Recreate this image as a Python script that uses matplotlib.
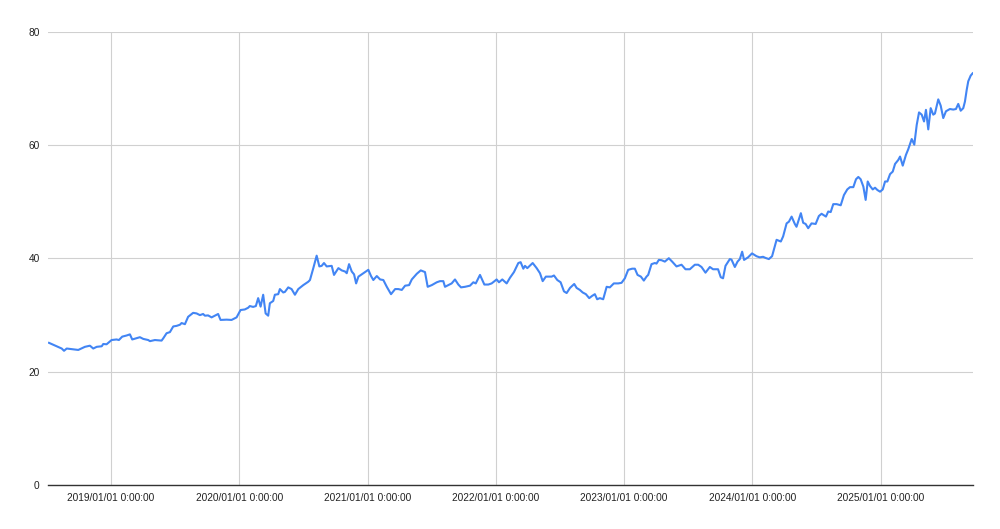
import pandas as pd
import matplotlib
matplotlib.use("Agg")
import matplotlib.pyplot as plt
import matplotlib.dates as mdates

# dates as decimal years
years = [
    2018.517, 2018.616, 2018.634, 2018.655, 2018.745, 2018.797, 2018.836, 2018.862, 2018.889, 2018.928,
    2018.940, 2018.966, 2019.005, 2019.044, 2019.062, 2019.088, 2019.122, 2019.148, 2019.166, 2019.213,
    2019.226, 2019.252, 2019.291, 2019.304, 2019.343, 2019.395, 2019.408, 2019.434, 2019.460, 2019.486,
    2019.512, 2019.538, 2019.551, 2019.577, 2019.602, 2019.641, 2019.668, 2019.694, 2019.719, 2019.733,
    2019.758, 2019.785, 2019.836, 2019.855, 2019.902, 2019.941, 2019.980, 2020.011, 2020.044, 2020.070,
    2020.083, 2020.109, 2020.130, 2020.148, 2020.167, 2020.187, 2020.206, 2020.226, 2020.239, 2020.265,
    2020.278, 2020.304, 2020.317, 2020.343, 2020.356, 2020.382, 2020.408, 2020.434, 2020.460, 2020.499,
    2020.538, 2020.551, 2020.577, 2020.603, 2020.624, 2020.642, 2020.660, 2020.681, 2020.720, 2020.738,
    2020.772, 2020.798, 2020.824, 2020.837, 2020.855, 2020.876, 2020.894, 2020.910, 2020.928, 2020.966,
    2021.005, 2021.026, 2021.044, 2021.071, 2021.097, 2021.122, 2021.149, 2021.182, 2021.214, 2021.239,
    2021.266, 2021.292, 2021.323, 2021.344, 2021.383, 2021.414, 2021.447, 2021.468, 2021.500, 2021.539,
    2021.564, 2021.590, 2021.603, 2021.629, 2021.655, 2021.681, 2021.707, 2021.728, 2021.759, 2021.798,
    2021.824, 2021.843, 2021.876, 2021.910, 2021.941, 2021.967, 2022.006, 2022.024, 2022.050, 2022.084,
    2022.110, 2022.141, 2022.175, 2022.193, 2022.214, 2022.227, 2022.245, 2022.287, 2022.318, 2022.344,
    2022.365, 2022.390, 2022.435, 2022.453, 2022.479, 2022.505, 2022.531, 2022.552, 2022.578, 2022.611,
    2022.630, 2022.655, 2022.677, 2022.702, 2022.728, 2022.751, 2022.772, 2022.790, 2022.811, 2022.837,
    2022.864, 2022.889, 2022.920, 2022.954, 2022.980, 2023.006, 2023.032, 2023.063, 2023.084, 2023.105,
    2023.131, 2023.154, 2023.175, 2023.188, 2023.214, 2023.240, 2023.253, 2023.271, 2023.292, 2023.318,
    2023.349, 2023.375, 2023.409, 2023.448, 2023.479, 2023.513, 2023.552, 2023.578, 2023.604, 2023.635,
    2023.669, 2023.694, 2023.733, 2023.754, 2023.772, 2023.791, 2023.825, 2023.838, 2023.864, 2023.885,
    2023.903, 2023.921, 2023.936, 2023.967, 2023.998, 2024.033, 2024.058, 2024.084, 2024.103, 2024.129,
    2024.154, 2024.189, 2024.222, 2024.240, 2024.267, 2024.285, 2024.306, 2024.331, 2024.344, 2024.378,
    2024.396, 2024.415, 2024.435, 2024.461, 2024.493, 2024.518, 2024.539, 2024.552, 2024.573, 2024.591,
    2024.610, 2024.630, 2024.656, 2024.688, 2024.713, 2024.739, 2024.760, 2024.786, 2024.807, 2024.825,
    2024.843, 2024.864, 2024.882, 2024.898, 2024.916, 2024.937, 2024.955, 2024.973, 2024.994, 2025.015,
    2025.033, 2025.051, 2025.072, 2025.093, 2025.111, 2025.136, 2025.150, 2025.171, 2025.196, 2025.214,
    2025.241, 2025.261, 2025.280, 2025.298, 2025.319, 2025.337, 2025.352, 2025.370, 2025.389, 2025.409,
    2025.422, 2025.448, 2025.467, 2025.487, 2025.508, 2025.539, 2025.565, 2025.586, 2025.604, 2025.623,
    2025.643, 2025.656, 2025.670, 2025.682, 2025.701, 2025.716,
]

values = [
    25.1, 24.1, 23.7, 24.1, 23.85, 24.4, 24.6, 24.1, 24.4, 24.5,
    24.9, 24.85, 25.6, 25.7, 25.6, 26.2, 26.4, 26.6, 25.7, 26.0,
    26.1, 25.8, 25.6, 25.4, 25.6, 25.5, 25.9, 26.8, 27.0, 28.0,
    28.1, 28.3, 28.6, 28.4, 29.7, 30.4, 30.3, 30.0, 30.2, 29.9,
    29.95, 29.6, 30.2, 29.15, 29.2, 29.15, 29.6, 30.9, 31.0, 31.3,
    31.6, 31.45, 31.6, 33.0, 31.5, 33.6, 30.3, 29.9, 32.1, 32.5,
    33.6, 33.7, 34.6, 34.0, 34.1, 34.9, 34.6, 33.6, 34.6, 35.3,
    35.9, 36.2, 38.3, 40.5, 38.6, 38.7, 39.2, 38.6, 38.7, 37.1,
    38.3, 37.9, 37.7, 37.4, 39.0, 37.7, 37.2, 35.6, 36.8, 37.4,
    38.0, 36.9, 36.2, 36.9, 36.3, 36.2, 35.0, 33.7, 34.6, 34.6,
    34.45, 35.2, 35.3, 36.3, 37.3, 37.9, 37.6, 35.0, 35.3, 35.8,
    36.0, 36.0, 35.0, 35.3, 35.6, 36.3, 35.4, 34.9, 35.0, 35.2,
    35.8, 35.6, 37.1, 35.4, 35.4, 35.6, 36.3, 35.8, 36.3, 35.6,
    36.6, 37.6, 39.2, 39.35, 38.2, 38.7, 38.3, 39.2, 38.3, 37.4,
    36.0, 36.8, 36.8, 37.0, 36.2, 35.8, 34.2, 33.9, 34.8, 35.5,
    34.8, 34.45, 34.0, 33.7, 33.0, 33.4, 33.7, 32.8, 33.0, 32.8,
    35.0, 34.9, 35.6, 35.6, 35.7, 36.5, 38.0, 38.2, 38.2, 37.1,
    36.8, 36.1, 36.8, 37.1, 39.0, 39.2, 39.1, 39.75, 39.7, 39.45,
    40.05, 39.45, 38.6, 38.9, 38.1, 38.1, 38.9, 38.9, 38.5, 37.5,
    38.5, 38.1, 38.1, 36.7, 36.5, 38.7, 39.9, 39.8, 38.5, 39.45,
    39.9, 41.2, 39.75, 40.2, 40.9, 40.4, 40.2, 40.3, 40.1, 39.9,
    40.4, 43.3, 43.0, 43.9, 46.2, 46.5, 47.4, 46.1, 45.6, 48.0,
    46.3, 46.1, 45.35, 46.2, 46.1, 47.5, 47.9, 47.7, 47.4, 48.3,
    48.2, 49.6, 49.6, 49.4, 51.2, 52.2, 52.6, 52.6, 54.0, 54.4,
    54.0, 52.7, 50.35, 53.6, 52.8, 52.2, 52.5, 52.1, 51.8, 52.2,
    53.6, 53.6, 54.9, 55.35, 56.7, 57.4, 58.0, 56.4, 58.3, 59.3,
    61.1, 60.1, 63.6, 65.8, 65.4, 64.2, 66.25, 62.8, 66.55, 65.4,
    65.6, 68.1, 67.0, 64.8, 66.0, 66.4, 66.3, 66.4, 67.3, 66.1,
    66.55, 67.7, 69.8, 71.3, 72.3, 72.7,
]

tick_years = [2019, 2020, 2021, 2022, 2023, 2024, 2025]
y_ticks = [0, 20, 40, 60, 80]


def to_date(y):
    start = pd.Timestamp(int(y), 1, 1)
    length = (pd.Timestamp(int(y) + 1, 1, 1) - start).days
    return start + pd.Timedelta(days=(y - int(y)) * length)


dates = [to_date(y) for y in years]

plt.rcParams['font.family'] = ['Liberation Sans', 'DejaVu Sans']

fig = plt.figure(figsize=(10, 5.29), dpi=100)
ax = fig.add_axes([0.048, 0.0832, 0.925, 0.8563])

ax.plot(dates, values, color="#4285F4", linewidth=1.5, solid_joinstyle="round")

ax.set_xlim(to_date(2018.509), to_date(2025.719))
ax.set_ylim(0, 80)
ax.set_yticks(y_ticks)
ax.set_xticks([pd.Timestamp(y, 1, 1) for y in tick_years])
ax.xaxis.set_major_formatter(mdates.DateFormatter("%Y/%m/%d 0:00:00"))

ax.grid(True, color="#d0d0d0", linewidth=0.8)
ax.set_axisbelow(True)
for side in ["top", "right", "left"]:
    ax.spines[side].set_visible(False)
ax.spines["bottom"].set_color("#333333")
ax.spines["bottom"].set_linewidth(1.0)
ax.spines["bottom"].set_zorder(3)

ax.tick_params(axis="both", length=0, labelsize=7.3, colors="#222222")
ax.tick_params(axis="y", pad=6)
ax.tick_params(axis="x", pad=6)

fig.savefig("out.png", dpi=100, facecolor="white")
